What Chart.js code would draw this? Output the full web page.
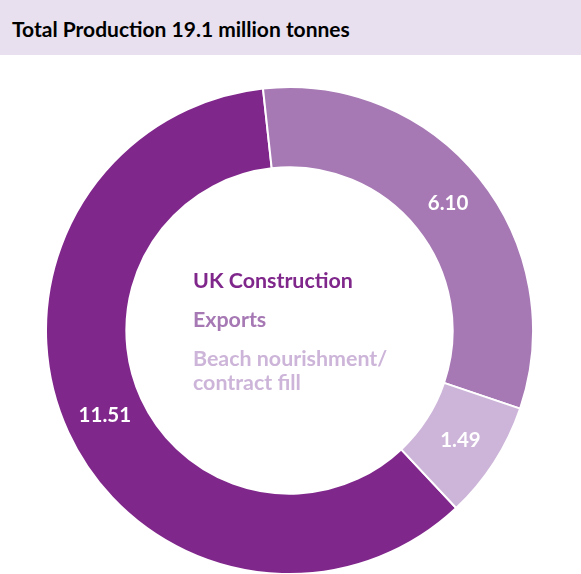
<!DOCTYPE html>
<html>
<head>
<meta charset="utf-8">
<script src="https://cdn.jsdelivr.net/npm/chart.js@4.4.0/dist/chart.umd.min.js"></script>
<style>
  html, body { margin: 0; padding: 0; background: #fff; width: 581px; height: 574px; overflow: hidden; }
  body { position: relative; font-family: Lato, "Open Sans", sans-serif; }
  #title {
    position: absolute; left: 0; top: 0; width: 581px; height: 55px;
    background: #e8e0ef;
  }
  #title span {
    position: absolute; left: 12px; top: 16px;
    font-size: 21px; line-height: 25px; font-weight: bold; color: #000;
  }
  #wrap { position: absolute; left: 45px; top: 85.5px; width: 489px; height: 489px; }
  .leg { position: absolute; left: 193px; font-size: 21.4px; line-height: 25px; font-weight: bold; white-space: nowrap; }
</style>
</head>
<body>
<div id="title"><span>Total Production 19.1 million tonnes</span></div>
<div id="wrap"><canvas id="prodChart" width="489" height="489"></canvas></div>
<div id="legend"></div>
<script>
// Categories and values (million tonnes)
const categories = ['UK Construction', 'Exports', 'Beach nourishment/\ncontract fill'];
const tonnes = [11.51, 6.10, 1.49];
const colours = ['#80278c', '#a678b4', '#cdb5d9'];

// legend written in the centre of the ring
const legendTops = [268, 307, 346];
categories.forEach(function (c, i) {
  const d = document.createElement('div');
  d.className = 'leg';
  d.style.top = legendTops[i] + 'px';
  d.style.color = colours[i];
  d.innerHTML = c.replace('\n', '<br>');
  if (i === 2) d.style.lineHeight = '24px';
  document.getElementById('legend').appendChild(d);
});

// white value labels in the middle of each slice
const valueLabels = {
  id: 'valueLabels',
  afterDatasetsDraw(chart) {
    const ctx = chart.ctx;
    const meta = chart.getDatasetMeta(0);
    ctx.save();
    ctx.fillStyle = '#fff';
    ctx.font = 'bold 20.5px Lato, sans-serif';
    ctx.textAlign = 'center';
    ctx.textBaseline = 'middle';
    meta.data.forEach(function (arc, i) {
      const p = arc.tooltipPosition();
      ctx.fillText(tonnes[i].toFixed(2), p.x, p.y);
    });
    ctx.restore();
  }
};

new Chart(document.getElementById('prodChart'), {
  type: 'doughnut',
  data: {
    labels: categories,
    datasets: [{
      data: tonnes,
      backgroundColor: colours,
      borderColor: '#fff',
      borderWidth: 2
    }]
  },
  options: {
    responsive: false,
    animation: false,
    rotation: 136.8,
    cutout: '67%',
    plugins: {
      legend: { display: false },
      tooltip: { enabled: false }
    }
  },
  plugins: [valueLabels]
});
</script>
</body>
</html>
